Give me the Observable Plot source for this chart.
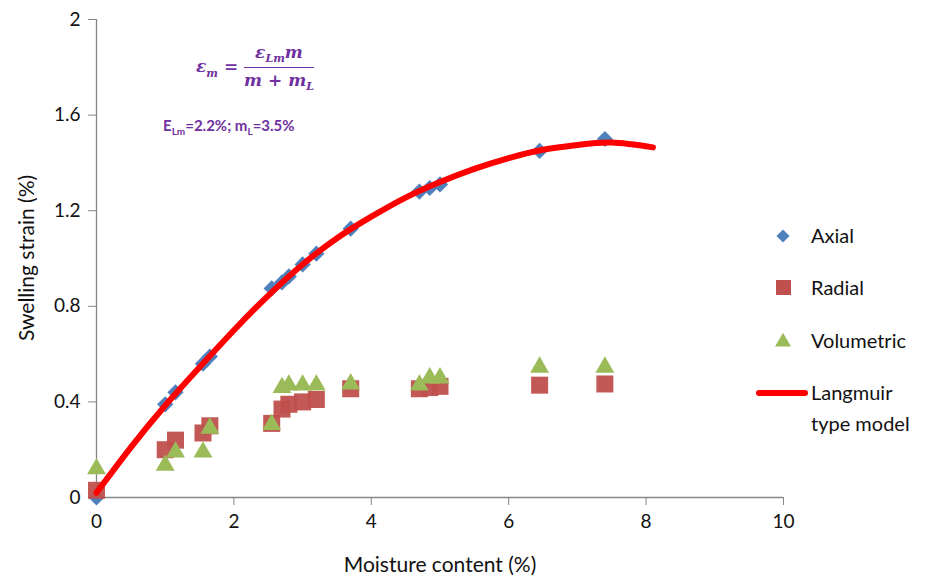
<!DOCTYPE html>
<html>
<head>
<meta charset="utf-8">
<script src="https://cdn.jsdelivr.net/npm/d3@7"></script>
<script src="https://cdn.jsdelivr.net/npm/@observablehq/plot@0.6"></script>
<style>
  body { margin: 0; background: #fff; }
  #wrap { position: relative; width: 933px; height: 577px; font-family: Lato, "Open Sans", sans-serif; }
  #wrap svg.plot { position: absolute; left: 0; top: 0; }
  .eq { position: absolute; color: #7030A0; font-family: "DejaVu Serif", serif; font-style: italic; font-weight: bold; font-size: 17px; }
  .frac { display: inline-block; vertical-align: middle; text-align: center; }
  .frac .num { display: block; border-bottom: 1.5px solid #7030A0; padding: 0 4px 2px; }
  .frac .den { display: block; padding-top: 2px; }
  .params { position: absolute; color: #7030A0; font-family: Lato, sans-serif; font-weight: bold; font-size: 15px; }
  .lbl { position: absolute; font-family: Lato, "Open Sans", sans-serif; font-size: 21px; color: #111; white-space: nowrap; }
  .legend .item { position: absolute; white-space: nowrap; font-family: Lato, "Open Sans", sans-serif; font-size: 20px; color: #111; line-height: 31px; }
</style>
</head>
<body>
<div id="wrap"></div>
<script>
// Moisture content (%) shared by all three series
const moisture = [0, 1.0, 1.15, 1.55, 1.65, 2.55, 2.7, 2.8, 3.0, 3.2, 3.7, 4.7, 4.85, 5.0, 6.45, 7.4];
const axial      = [0, 0.39, 0.44, 0.56, 0.59, 0.875, 0.90, 0.925, 0.975, 1.02, 1.125, 1.28, 1.295, 1.31, 1.45, 1.50];
const radial     = [0.03, 0.20, 0.24, 0.27, 0.30, 0.31, 0.37, 0.39, 0.40, 0.41, 0.455, 0.455, 0.46, 0.465, 0.47, 0.475];
const volumetric = [0.12, 0.135, 0.19, 0.19, 0.29, 0.305, 0.46, 0.47, 0.47, 0.47, 0.475, 0.47, 0.50, 0.50, 0.545, 0.545];
// Langmuir type model curve
const modelX = [0, 0.5, 1, 1.5, 2, 2.5, 3, 3.5, 4, 4.5, 5, 5.5, 6, 6.5, 7, 7.5, 8.1];
const modelY = [0.02, 0.21, 0.385, 0.545, 0.70, 0.845, 0.975, 1.085, 1.175, 1.255, 1.32, 1.375, 1.42, 1.455, 1.475, 1.485, 1.465];
const xTicks = [0, 2, 4, 6, 8, 10];
const yTicks = [0, 0.4, 0.8, 1.2, 1.6, 2];

const axialData = moisture.map((m, i) => ({x: m, y: axial[i]}));
const radialData = moisture.map((m, i) => ({x: m, y: radial[i]}));
const volData = moisture.map((m, i) => ({x: m, y: volumetric[i]}));
const modelData = modelX.map((m, i) => ({x: m, y: modelY[i]}));

const axisColor = "#868686";
const plot = Plot.plot({
  width: 933,
  height: 577,
  marginLeft: 96,
  marginRight: 150,
  marginTop: 19,
  marginBottom: 80,
  style: {fontFamily: "Lato, 'Open Sans', sans-serif", fontSize: "19px", color: "#111", background: "transparent"},
  x: {domain: [0, 10], label: null},
  y: {domain: [0, 2], label: null},
  marks: [
    Plot.axisX({ticks: xTicks, tickFormat: d => String(d), tickSize: 8, tickPadding: 9, stroke: axisColor, label: null, fontSize: 19}),
    Plot.axisY({ticks: yTicks, tickFormat: d => String(d), tickSize: 8, tickPadding: 8, stroke: axisColor, label: null, fontSize: 19}),
    Plot.ruleX([0], {stroke: axisColor, strokeWidth: 1.3}),
    Plot.ruleY([0], {stroke: axisColor, strokeWidth: 1.3}),
    Plot.dot(axialData, {x: "x", y: "y", symbol: "diamond2", r: 7.3, fill: "#4F81BD", stroke: "none"}),
    Plot.dot(radialData, {x: "x", y: "y", symbol: "square", r: 9.6, fill: "#C0504D", stroke: "none", fillOpacity: 0.95}),
    Plot.dot(volData, {x: "x", y: "y", symbol: "triangle", r: 7, fill: "#9BBB59", stroke: "none"}),
    Plot.line(modelData, {x: "x", y: "y", curve: "natural", stroke: "#FF0000", strokeWidth: 6, strokeLinecap: "round"})
  ]
});
plot.classList.add("plot");
const wrap = document.getElementById("wrap");
wrap.appendChild(plot);

// Axis titles
const xl = document.createElement("div");
xl.className = "lbl";
xl.textContent = "Moisture content (%)";
xl.style.left = "440px"; xl.style.top = "563px";
xl.style.transform = "translate(-50%, -50%)";
wrap.appendChild(xl);
const yl = document.createElement("div");
yl.className = "lbl";
yl.textContent = "Swelling strain (%)";
yl.style.left = "25px"; yl.style.top = "258px";
yl.style.transform = "translate(-50%, -50%) rotate(-90deg)";
wrap.appendChild(yl);

// Equation annotation
const eq = document.createElement("div");
eq.className = "eq";
eq.style.left = "196px";
eq.style.top = "42px";
eq.innerHTML = 'ε<sub style="font-size:11px">m</sub> = <span class="frac"><span class="num">ε<sub style="font-size:11px">Lm</sub>m</span><span class="den">m + m<sub style="font-size:11px">L</sub></span></span>';
wrap.appendChild(eq);

const params = document.createElement("div");
params.className = "params";
params.style.left = "163px";
params.style.top = "116px";
params.innerHTML = 'E<sub style="font-size:10px">Lm</sub>=2.2%; m<sub style="font-size:10px">L</sub>=3.5%';
wrap.appendChild(params);

// Legend
const legendItems = [
  {label: "Axial", sym: "diamond", color: "#4F81BD", y: 236},
  {label: "Radial", sym: "square", color: "#C0504D", y: 288},
  {label: "Volumetric", sym: "triangle", color: "#9BBB59", y: 341},
  {label: "Langmuir<br>type model", sym: "line", color: "#FF0000", y: 393}
];
const legend = document.createElement("div");
legend.className = "legend";
const ns = "http://www.w3.org/2000/svg";
const lsvg = document.createElementNS(ns, "svg");
lsvg.setAttribute("width", 933); lsvg.setAttribute("height", 577);
lsvg.style.position = "absolute"; lsvg.style.left = "0"; lsvg.style.top = "0";
for (const it of legendItems) {
  let el;
  if (it.sym === "diamond") {
    el = document.createElementNS(ns, "path");
    el.setAttribute("d", d3.symbol(d3.symbolDiamond2, 110)());
    el.setAttribute("transform", `translate(783,${it.y})`);
    el.setAttribute("fill", it.color);
  } else if (it.sym === "square") {
    el = document.createElementNS(ns, "rect");
    el.setAttribute("x", 776); el.setAttribute("y", it.y - 8);
    el.setAttribute("width", 15); el.setAttribute("height", 15);
    el.setAttribute("fill", it.color);
  } else if (it.sym === "triangle") {
    el = document.createElementNS(ns, "path");
    el.setAttribute("d", d3.symbol(d3.symbolTriangle, 110)());
    el.setAttribute("transform", `translate(783,${it.y + 1})`);
    el.setAttribute("fill", it.color);
  } else {
    el = document.createElementNS(ns, "line");
    el.setAttribute("x1", 759); el.setAttribute("x2", 805);
    el.setAttribute("y1", it.y); el.setAttribute("y2", it.y);
    el.setAttribute("stroke", it.color); el.setAttribute("stroke-width", 6);
    el.setAttribute("stroke-linecap", "round");
  }
  lsvg.appendChild(el);
  const t = document.createElement("div");
  t.className = "item";
  t.style.left = "811px";
  t.style.top = (it.y - 16) + "px";
  t.innerHTML = it.label;
  legend.appendChild(t);
}
wrap.appendChild(lsvg);
wrap.appendChild(legend);
</script>
</body>
</html>
